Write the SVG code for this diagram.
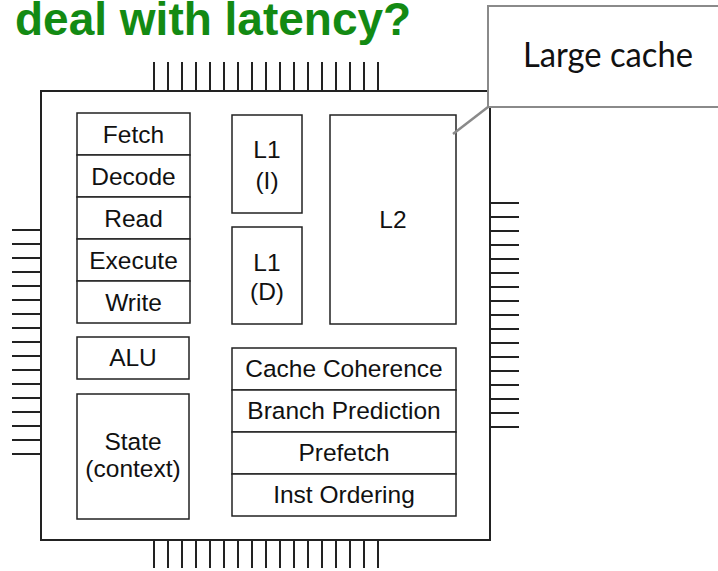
<svg xmlns="http://www.w3.org/2000/svg" width="718" height="571" viewBox="0 0 718 571">
  <style>
    .box { fill: #ffffff; stroke: #222222; stroke-width: 1.5; }
    .chip { fill: #ffffff; stroke: #222222; stroke-width: 2; }
    .pin { stroke: #222222; stroke-width: 2; }
    .lbl { font-family: "Liberation Sans", Arial, Helvetica, sans-serif; font-size: 24.5px; fill: #111111; text-anchor: middle; }
    .title { font-family: "Liberation Sans", Arial, Helvetica, sans-serif; font-size: 46px; font-weight: bold; fill: #138a13; }
    .callout { fill: #ffffff; stroke: #8a8a8a; stroke-width: 2; }
    .callout-text { font-family: Lato, "Open Sans", sans-serif; font-size: 34px; fill: #111111; }
    .leader { stroke: #8a8a8a; stroke-width: 2.5; fill: none; }
  </style>
  <defs>
    <!-- 17 pins on a 14px pitch -->
    <g id="pins-h">
      <line class="pin" x1="154" y1="0" x2="154" y2="29"/>
      <line class="pin" x1="168" y1="0" x2="168" y2="29"/>
      <line class="pin" x1="182" y1="0" x2="182" y2="29"/>
      <line class="pin" x1="196" y1="0" x2="196" y2="29"/>
      <line class="pin" x1="210" y1="0" x2="210" y2="29"/>
      <line class="pin" x1="224" y1="0" x2="224" y2="29"/>
      <line class="pin" x1="238" y1="0" x2="238" y2="29"/>
      <line class="pin" x1="252" y1="0" x2="252" y2="29"/>
      <line class="pin" x1="266" y1="0" x2="266" y2="29"/>
      <line class="pin" x1="280" y1="0" x2="280" y2="29"/>
      <line class="pin" x1="294" y1="0" x2="294" y2="29"/>
      <line class="pin" x1="308" y1="0" x2="308" y2="29"/>
      <line class="pin" x1="322" y1="0" x2="322" y2="29"/>
      <line class="pin" x1="336" y1="0" x2="336" y2="29"/>
      <line class="pin" x1="350" y1="0" x2="350" y2="29"/>
      <line class="pin" x1="364" y1="0" x2="364" y2="29"/>
      <line class="pin" x1="378" y1="0" x2="378" y2="29"/>
    </g>
    <g id="pins-v">
      <line class="pin" x1="0" y1="0" x2="29" y2="0"/>
      <line class="pin" x1="0" y1="14" x2="29" y2="14"/>
      <line class="pin" x1="0" y1="28" x2="29" y2="28"/>
      <line class="pin" x1="0" y1="42" x2="29" y2="42"/>
      <line class="pin" x1="0" y1="56" x2="29" y2="56"/>
      <line class="pin" x1="0" y1="70" x2="29" y2="70"/>
      <line class="pin" x1="0" y1="84" x2="29" y2="84"/>
      <line class="pin" x1="0" y1="98" x2="29" y2="98"/>
      <line class="pin" x1="0" y1="112" x2="29" y2="112"/>
      <line class="pin" x1="0" y1="126" x2="29" y2="126"/>
      <line class="pin" x1="0" y1="140" x2="29" y2="140"/>
      <line class="pin" x1="0" y1="154" x2="29" y2="154"/>
      <line class="pin" x1="0" y1="168" x2="29" y2="168"/>
      <line class="pin" x1="0" y1="182" x2="29" y2="182"/>
      <line class="pin" x1="0" y1="196" x2="29" y2="196"/>
      <line class="pin" x1="0" y1="210" x2="29" y2="210"/>
      <line class="pin" x1="0" y1="224" x2="29" y2="224"/>
    </g>
  </defs>

  <rect width="718" height="571" fill="#ffffff"/>

  <text class="title" x="15" y="35">deal with latency?</text>

  <!-- processor package -->
  <g id="chip">
    <use href="#pins-h" y="62"/>
    <use href="#pins-h" y="539"/>
    <use href="#pins-v" x="12" y="230"/>
    <use href="#pins-v" x="490" y="203"/>
    <rect class="chip" x="41" y="91" width="449" height="449"/>
  </g>

  <!-- pipeline stages -->
  <g id="fetch">
    <rect class="box" x="77" y="113" width="113" height="42"/>
    <text class="lbl" x="133.5" y="142.5">Fetch</text>
  </g>
  <g id="decode">
    <rect class="box" x="77" y="155" width="113" height="42"/>
    <text class="lbl" x="133.5" y="184.5">Decode</text>
  </g>
  <g id="read">
    <rect class="box" x="77" y="197" width="113" height="42"/>
    <text class="lbl" x="133.5" y="226.5">Read</text>
  </g>
  <g id="execute">
    <rect class="box" x="77" y="239" width="113" height="42"/>
    <text class="lbl" x="133.5" y="268.5">Execute</text>
  </g>
  <g id="write">
    <rect class="box" x="77" y="281" width="113" height="42"/>
    <text class="lbl" x="133.5" y="310.5">Write</text>
  </g>

  <g id="alu">
    <rect class="box" x="77" y="337" width="112" height="42"/>
    <text class="lbl" x="133" y="366">ALU</text>
  </g>
  <g id="state">
    <rect class="box" x="77" y="394" width="112" height="125"/>
    <text class="lbl" x="133" y="450">State</text>
    <text class="lbl" x="133" y="477">(context)</text>
  </g>

  <!-- caches -->
  <g id="l1-i">
    <rect class="box" x="232" y="115" width="70" height="98"/>
    <text class="lbl" x="267" y="158">L1</text>
    <text class="lbl" x="267" y="189">(I)</text>
  </g>
  <g id="l1-d">
    <rect class="box" x="232" y="227" width="70" height="97"/>
    <text class="lbl" x="267" y="271">L1</text>
    <text class="lbl" x="267" y="300">(D)</text>
  </g>
  <g id="l2">
    <rect class="box" x="330" y="115" width="126" height="209"/>
    <text class="lbl" x="393" y="228">L2</text>
  </g>

  <!-- control units -->
  <g id="cache-coherence">
    <rect class="box" x="232" y="348" width="224" height="42"/>
    <text class="lbl" x="344" y="377">Cache Coherence</text>
  </g>
  <g id="branch-prediction">
    <rect class="box" x="232" y="390" width="224" height="42"/>
    <text class="lbl" x="344" y="419">Branch Prediction</text>
  </g>
  <g id="prefetch">
    <rect class="box" x="232" y="432" width="224" height="42"/>
    <text class="lbl" x="344" y="461">Prefetch</text>
  </g>
  <g id="inst-ordering">
    <rect class="box" x="232" y="474" width="224" height="42"/>
    <text class="lbl" x="344" y="503">Inst Ordering</text>
  </g>

  <!-- callout -->
  <g id="large-cache">
    <rect class="callout" x="488" y="6" width="240" height="101"/>
    <text class="callout-text" x="523" y="67" textLength="170" lengthAdjust="spacingAndGlyphs">Large cache</text>
  </g>

  <g id="connectors">
    <line class="leader" x1="488" y1="107" x2="453" y2="134"/>
  </g>
</svg>
